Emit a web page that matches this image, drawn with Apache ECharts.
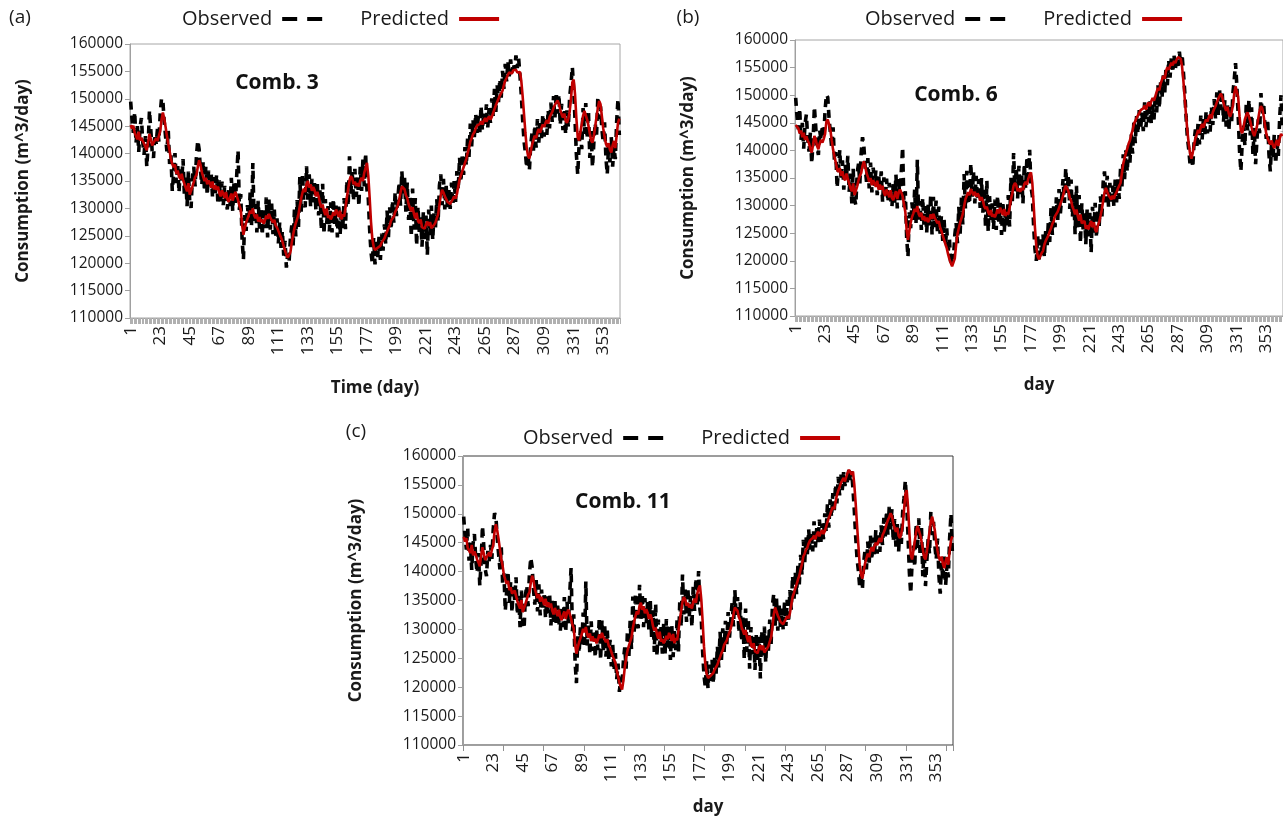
<!DOCTYPE html>
<html>
<head>
<meta charset="utf-8">
<script src="https://cdn.jsdelivr.net/npm/echarts@6/dist/echarts.min.js"></script>
<style>
html,body{margin:0;padding:0;background:#fff;}
#chart{width:1283px;height:820px;}
</style>
</head>
<body>
<div id="chart"></div>
<script>
// Values in thousands of m^3/day, one per day (day 1 .. 365)
const observedK = [
149.5,146.2,143.8,147.6,141.9,145.0,140.3,144.8,146.5,142.1,
139.8,143.2,137.6,141.5,147.9,144.3,140.5,139.2,143.6,141.8,
144.6,142.2,147.3,150.1,149.6,145.8,143.1,140.4,144.2,138.1,
139.7,133.2,136.5,140.1,134.6,138.2,132.9,137.4,135.1,139.0,
132.5,135.8,130.4,136.7,131.2,130.1,135.9,137.6,134.0,139.6,
142.4,140.8,136.9,134.3,138.6,133.1,137.8,132.4,136.9,133.6,
136.4,131.9,135.7,132.8,136.2,130.7,135.1,131.3,134.9,130.6,
134.1,131.2,129.8,133.9,130.4,135.6,129.5,134.8,131.0,136.1,
140.6,129.7,132.6,124.3,120.7,128.8,125.9,130.6,127.4,132.9,
126.8,138.3,127.2,130.8,125.6,131.4,126.3,129.9,125.1,130.2,
126.4,132.0,124.7,131.6,126.1,130.9,125.3,129.8,124.9,128.2,
123.6,127.5,122.8,125.9,121.4,124.1,119.2,121.7,120.3,124.6,
126.9,123.2,129.8,124.9,131.5,126.6,135.7,129.4,136.3,131.0,
130.2,137.7,131.6,136.2,130.4,135.4,131.1,134.8,129.6,135.0,
128.7,133.3,126.1,134.5,125.3,131.7,127.2,130.4,125.8,131.1,
125.6,131.8,126.9,130.5,124.7,130.8,125.2,129.7,126.4,131.9,
126.2,135.1,130.4,139.5,132.6,136.9,131.3,137.2,132.1,135.8,
130.4,137.6,133.2,138.9,134.0,140.1,133.4,131.8,126.2,122.1,
120.0,124.6,119.8,123.9,121.1,124.8,120.6,125.4,122.3,127.1,
123.4,129.6,124.7,130.2,126.1,131.5,127.4,133.0,128.6,131.7,
134.8,130.5,136.8,132.3,135.6,129.4,134.7,127.9,132.2,124.8,
133.6,126.1,131.9,123.2,130.4,125.7,128.9,123.0,129.3,124.4,
128.7,121.5,129.8,125.1,130.5,124.2,129.4,126.3,131.7,127.5,
134.2,136.2,130.6,135.4,129.8,134.1,130.2,133.6,129.9,134.7,
130.6,135.1,131.2,136.8,133.4,139.3,134.8,140.0,136.1,141.2,
137.8,142.9,139.4,145.5,141.3,146.2,143.0,147.3,143.8,146.9,
143.5,148.7,144.2,147.5,145.1,149.0,144.8,148.3,145.6,150.1,
146.9,151.8,147.6,152.5,149.4,153.6,150.2,155.1,151.8,156.4,
153.2,156.9,154.1,157.2,154.8,156.5,155.3,157.9,155.6,157.4,
154.2,150.6,146.1,142.3,140.2,137.4,139.8,136.9,141.6,143.8,
140.4,145.2,141.1,146.3,142.0,145.9,142.7,147.2,143.1,146.8,
143.4,148.0,144.6,149.3,145.8,150.5,146.4,151.2,147.3,150.8,
145.2,149.1,144.3,148.2,143.5,147.9,144.8,150.3,152.7,155.8,
151.6,146.2,139.9,136.2,141.4,144.5,140.8,148.3,143.6,149.2,
142.7,147.8,139.2,144.1,137.5,141.9,145.6,143.1,150.4,146.3,
148.6,144.5,142.1,145.7,139.3,136.2,141.5,138.4,143.0,137.6,
141.2,139.0,145.8,150.0,143.4
];
const predictedComb3K = [
145.2,144.6,145.1,143.8,143.5,142.6,144.0,142.4,142.9,142.3,
141.8,141.2,140.6,142.1,143.6,142.7,141.5,141.2,142.4,142.8,
142.3,143.2,144.1,146.2,147.5,146.4,144.9,143.2,141.8,140.5,
139.0,138.1,137.5,138.0,136.3,136.9,135.8,135.4,136.3,135.2,
134.5,133.8,133.1,134.6,132.5,132.3,134.0,134.8,135.7,136.1,
137.6,138.8,138.0,136.6,135.8,135.0,135.6,134.4,135.1,134.6,
133.8,134.9,133.5,134.2,133.4,134.0,132.8,132.2,133.3,132.6,
131.9,133.0,131.7,131.2,132.0,132.7,131.4,132.4,133.0,132.3,
131.5,130.5,129.8,127.0,125.2,126.5,127.4,128.1,128.8,129.6,
129.1,130.0,128.7,128.2,128.9,127.6,128.4,127.5,128.0,127.2,
127.8,128.7,128.1,129.0,128.3,128.5,127.4,127.9,126.9,126.5,
125.9,125.3,124.7,124.0,123.1,122.3,121.5,121.0,120.8,122.0,
123.8,125.2,126.4,127.3,128.1,128.9,130.5,131.8,132.9,133.6,
133.0,134.5,135.0,133.8,134.4,133.2,133.9,133.3,132.2,133.0,
132.2,131.0,130.2,130.7,129.5,128.8,130.0,128.3,128.7,128.0,
128.5,129.3,128.7,129.8,129.2,128.4,129.6,128.0,128.9,128.5,
130.1,131.9,133.5,135.1,135.9,135.5,134.4,134.9,134.1,134.6,
134.0,135.1,135.6,135.0,136.5,137.4,138.3,136.0,132.0,127.6,
124.5,123.0,122.4,122.2,122.8,122.6,123.2,123.8,123.5,124.5,
125.2,125.8,126.4,126.9,127.8,127.5,128.5,129.3,129.9,130.6,
131.6,132.9,134.0,134.3,133.5,132.4,131.9,130.8,130.1,129.5,
130.2,129.0,128.2,129.2,127.7,127.3,128.0,126.6,126.9,126.3,
127.1,127.6,126.8,127.5,126.4,126.2,127.0,127.4,128.2,128.9,
130.6,132.4,133.4,132.9,132.2,131.7,131.2,131.5,130.8,131.3,
131.7,132.2,131.8,132.6,134.0,135.3,136.0,136.8,137.5,138.3,
139.0,140.1,141.0,142.2,142.8,143.5,143.9,144.6,145.1,144.8,
145.4,145.9,145.3,146.0,146.5,145.8,146.4,146.8,146.2,146.7,
147.4,148.1,148.8,149.4,150.0,150.6,150.3,151.5,152.5,153.3,
153.8,154.4,154.8,155.1,154.6,155.2,154.9,155.3,154.8,154.5,
154.9,153.2,150.4,147.2,143.9,141.0,139.6,139.1,140.4,141.6,
142.5,143.3,142.8,143.9,144.5,143.8,144.7,145.3,144.9,145.6,
146.1,145.5,146.6,147.1,147.6,148.3,148.9,149.2,149.7,149.1,
148.0,147.2,146.6,147.3,146.0,145.6,146.4,147.6,150.1,153.0,
153.5,150.8,146.5,143.0,142.4,143.9,145.4,146.9,147.8,147.0,
146.2,145.1,143.7,142.4,142.0,143.2,144.9,146.7,148.3,149.6,
149.0,146.8,144.6,143.1,141.8,141.2,141.9,140.7,140.2,141.5,
142.3,141.0,143.3,145.6,146.4
];
const predictedComb6K = [
144.6,144.9,144.0,143.1,143.6,142.4,143.2,141.9,142.6,141.8,
141.3,140.2,139.6,141.0,142.6,142.0,140.8,140.2,141.3,141.9,
141.4,142.1,143.0,145.2,145.6,144.7,143.6,141.8,140.1,138.9,
137.8,136.5,136.1,136.8,135.4,136.2,135.0,134.6,135.8,134.9,
134.0,133.1,132.6,134.0,131.9,132.0,133.5,134.6,135.4,135.9,
137.2,138.0,137.1,135.9,135.2,134.3,135.0,133.7,134.6,134.0,
133.4,134.5,132.9,133.8,132.9,133.6,132.3,131.8,132.9,132.3,
131.5,132.8,131.4,131.0,131.9,132.6,131.2,132.3,132.9,132.4,
131.7,130.3,128.9,125.6,123.8,125.4,126.9,127.9,128.6,129.4,
128.9,129.9,128.5,128.0,128.7,127.4,128.1,127.2,127.8,127.0,
127.5,128.4,127.6,128.5,127.8,127.9,126.8,127.2,126.1,125.4,
124.6,123.8,123.0,122.3,121.2,120.3,119.6,119.0,118.8,120.4,
122.9,124.8,125.9,126.9,127.7,128.5,129.9,131.2,131.8,132.4,
131.9,133.0,132.7,131.9,132.5,131.6,132.2,131.8,130.9,131.5,
130.9,129.9,129.4,129.8,128.8,128.3,129.2,128.0,128.4,127.9,
128.5,129.3,128.6,129.6,129.0,128.3,129.4,128.1,128.8,128.4,
129.6,131.1,132.2,133.6,134.1,133.7,132.6,133.1,132.5,133.2,
132.8,133.9,134.3,133.8,134.9,135.6,136.0,134.1,130.2,125.9,
122.6,120.8,120.3,120.6,121.4,121.8,122.9,123.6,123.4,124.6,
125.3,125.9,126.7,127.2,128.1,127.8,128.9,129.6,130.3,131.0,
131.8,132.9,133.6,133.4,132.6,131.4,130.9,129.8,129.2,128.4,
129.3,128.1,127.3,128.4,126.8,126.5,127.2,125.8,126.4,125.7,
126.6,127.2,126.1,127.0,125.6,125.2,126.4,127.0,128.1,129.3,
130.9,132.4,133.2,132.5,131.9,131.6,131.1,131.8,131.2,132.0,
132.4,133.1,132.8,134.1,135.9,137.6,138.6,139.5,140.3,141.2,
141.8,142.9,143.6,144.8,145.3,145.9,146.2,146.8,147.3,147.0,
147.6,148.1,147.4,148.2,148.7,148.0,148.9,149.5,149.0,149.8,
150.6,151.3,150.9,152.1,152.8,153.5,153.0,154.3,155.1,154.6,
155.3,155.9,155.4,156.2,155.8,156.5,156.9,157.1,156.6,155.2,
152.6,149.4,146.3,143.5,141.2,139.4,138.5,139.6,141.0,142.2,
142.9,143.7,143.1,144.2,144.8,144.1,145.0,145.6,145.2,146.0,
146.5,145.8,146.9,147.5,148.0,148.7,149.3,149.8,150.3,149.7,
148.6,147.8,147.2,147.9,146.6,146.1,146.9,148.1,150.2,151.6,
151.9,149.6,146.2,143.6,143.1,144.3,145.6,146.4,146.9,146.1,
145.3,144.2,143.2,142.6,142.9,144.3,145.8,147.2,148.0,147.6,
146.3,144.6,143.0,142.2,141.6,141.1,141.8,140.9,140.4,141.2,
141.9,140.8,142.1,143.0,142.6
];
const predictedComb11K = [
146.0,145.2,145.8,144.1,144.3,143.2,144.6,142.8,143.5,142.9,
142.1,141.6,140.9,142.8,144.2,143.1,142.0,141.8,142.9,143.3,
142.6,143.8,144.5,146.9,148.2,147.1,145.6,143.9,142.2,141.0,
139.4,138.6,137.9,138.4,136.8,137.3,136.2,135.9,136.7,135.8,
134.9,134.2,133.6,135.1,133.0,132.8,134.4,135.2,136.0,136.4,
138.1,139.3,138.5,137.0,136.2,135.4,136.1,134.8,135.6,135.0,
134.2,135.3,133.9,134.7,133.8,134.5,133.2,132.6,133.7,133.0,
132.3,133.4,132.1,131.6,132.5,133.1,131.8,132.9,133.4,132.7,
131.9,130.8,130.2,127.4,125.8,126.9,127.8,128.5,129.2,130.1,
129.5,130.4,129.1,128.6,129.3,128.0,128.8,127.9,128.4,127.6,
128.2,129.1,128.5,129.4,128.7,128.9,127.8,128.3,127.2,126.8,
126.1,125.4,124.8,124.2,123.0,121.9,120.8,120.1,119.6,121.2,
123.4,125.0,126.3,127.1,127.9,128.6,130.2,131.4,132.3,133.1,
132.6,134.1,134.6,133.4,134.0,132.8,133.5,132.9,131.8,132.6,
131.9,130.6,129.8,130.3,129.1,128.4,129.6,127.9,128.3,127.6,
128.1,128.9,128.3,129.4,128.8,128.0,129.2,127.6,128.5,128.1,
129.8,131.6,133.2,134.8,135.6,135.2,134.1,134.6,133.8,134.3,
133.6,134.8,135.3,134.6,136.2,137.1,137.6,135.2,131.4,127.1,
124.0,122.3,121.6,121.4,122.0,121.8,122.5,123.1,122.8,123.9,
124.6,125.2,125.9,126.4,127.3,127.0,128.1,128.9,129.5,130.2,
131.3,132.6,133.8,134.0,133.2,132.1,131.6,130.4,129.8,129.1,
129.9,128.6,127.8,128.9,127.3,126.9,127.6,126.2,126.5,125.9,
126.8,127.3,126.4,127.2,126.0,125.8,126.7,127.1,127.9,128.6,
130.4,132.6,133.8,133.1,132.4,131.9,131.3,131.6,130.9,131.4,
131.8,132.3,131.9,132.8,134.2,135.6,136.3,137.1,137.8,138.6,
139.3,140.4,141.3,142.6,143.1,143.8,144.2,144.9,145.4,145.1,
145.8,146.2,145.6,146.4,146.9,146.1,146.7,147.2,146.5,147.0,
147.8,148.6,149.3,149.9,150.6,151.2,150.8,152.1,153.2,154.0,
154.6,155.3,155.8,156.2,155.6,156.4,157.1,157.6,157.2,156.8,
157.3,155.0,151.8,148.1,144.6,141.2,139.5,138.8,140.2,141.4,
142.3,143.1,142.5,143.6,144.2,143.5,144.4,145.0,144.6,145.3,
145.8,145.1,146.3,146.8,147.4,148.2,148.9,149.4,150.1,149.6,
148.4,147.5,146.9,147.6,146.2,145.8,146.6,147.9,150.6,153.4,
154.1,151.2,146.8,143.0,142.1,143.6,145.2,146.8,147.9,147.2,
146.4,145.3,143.9,142.5,142.1,143.4,145.1,146.9,148.6,149.5,
149.2,147.1,145.0,143.6,142.4,141.9,142.6,141.3,140.6,141.8,
142.5,141.2,143.6,145.4,146.1
];
const UNIT = 1000;
const panelLabels = ['(a)', '(b)', '(c)'];
const combLabels = ['Comb. 3', 'Comb. 6', 'Comb. 11'];
const xTitles = ['Time (day)', 'day', 'day'];
const yTitle = 'Consumption (m^3/day)';
const seriesNames = ['Observed', 'Predicted'];
const yMin = 110000, yMax = 160000, yStep = 5000;

const days = [];
for (let d = 1; d <= 365; d++) days.push(String(d));
const toData = arr => arr.map(v => Math.round(v * UNIT));
const predictedAll = [predictedComb3K, predictedComb6K, predictedComb11K];

const FONT = 'Open Sans';
const grids = [
  {left: 130, top: 44, width: 490, height: 274, border: '#a6a6a6', tickEvery: 1, nameGap: 62},
  {left: 795, top: 40, width: 490, height: 276, border: '#a6a6a6', tickEvery: 1, nameGap: 61},
  {left: 463, top: 456, width: 490, height: 289, border: '#3a3a3a', tickEvery: 30, nameGap: 54}
];
const legendPos = [{left: 177, top: 4}, {left: 860, top: 4}, {left: 518, top: 423}];
const panelPos = [[20, 18], [688, 18], [356, 432]];
const combPos = [[277, 83], [956, 95], [623, 502]];

const dashIcon = 'path://M0,0H15V4H0ZM25,0H40V4H25Z';
const lineIcon = 'path://M0,0H40V4H0Z';
const RED = '#c00000';

const option = {
  animation: false,
  backgroundColor: '#fff',
  textStyle: {fontFamily: FONT},
  grid: grids.map(g => ({left: g.left, top: g.top, width: g.width, height: g.height,
    show: true, borderColor: g.border, borderWidth: 1, backgroundColor: 'transparent', containLabel: false})),
  xAxis: grids.map((g, i) => ({
    type: 'category', gridIndex: i, data: days, boundaryGap: true,
    axisLine: {show: true, lineStyle: {color: '#a0a0a0', width: 1}},
    axisTick: {show: true, length: 6, interval: g.tickEvery === 1 ? 0 : (idx => idx % g.tickEvery === 0),
      lineStyle: {color: g.tickEvery === 1 ? '#b0b0b0' : '#909090', width: 1}},
    axisLabel: {interval: 21, rotate: 90, fontSize: 17, color: '#1a1a1a', margin: 8, fontFamily: FONT},
    splitLine: {show: false},
    name: xTitles[i], nameLocation: 'middle', nameGap: g.nameGap,
    nameTextStyle: {fontSize: 17, fontWeight: 'bold', color: '#1a1a1a', fontFamily: FONT}
  })),
  yAxis: grids.map((g, i) => ({
    type: 'value', gridIndex: i, min: yMin, max: yMax, interval: yStep,
    axisLine: {show: true, lineStyle: {color: '#a0a0a0', width: 1}},
    axisTick: {show: true, length: 5, lineStyle: {color: '#a0a0a0'}},
    axisLabel: {fontSize: 15.5, color: '#1a1a1a', margin: 7, fontFamily: FONT,
      formatter: v => String(v)},
    splitLine: {show: false},
    name: yTitle, nameLocation: 'middle', nameGap: 98, nameRotate: 90,
    nameTextStyle: {fontSize: 17, fontWeight: 'bold', color: '#1a1a1a', fontFamily: FONT}
  })),
  legend: legendPos.map(p => ({
    left: p.left, top: p.top, orient: 'horizontal', align: 'right',
    itemWidth: 40, itemHeight: 4, itemGap: 38,
    textStyle: {fontSize: 20, color: '#1a1a1a', fontFamily: FONT, padding: [0, 5, 0, 0]},
    selectedMode: false,
    data: [
      {name: seriesNames[0], icon: dashIcon, itemStyle: {color: '#000', borderWidth: 0}},
      {name: seriesNames[1], icon: lineIcon, itemStyle: {color: RED, borderWidth: 0}}
    ]
  })),
  graphic: [].concat(
    panelLabels.map((t, i) => ({type: 'text', x: panelPos[i][0], y: panelPos[i][1], silent: true,
      style: {text: t, fontSize: 19, fontFamily: FONT, fill: '#1a1a1a', textAlign: 'center', textVerticalAlign: 'middle'}})),
    combLabels.map((t, i) => ({type: 'text', x: combPos[i][0], y: combPos[i][1], silent: true, z: 10,
      style: {text: t, fontSize: 21, fontWeight: 'bold', fontFamily: FONT, fill: '#111', textAlign: 'center', textVerticalAlign: 'middle'}}))
  ),
  series: []
};

grids.forEach((g, i) => {
  option.series.push({
    type: 'line', name: seriesNames[0], xAxisIndex: i, yAxisIndex: i,
    data: toData(observedK), showSymbol: false, symbol: 'none', z: 2,
    itemStyle: {color: '#000'},
    lineStyle: {color: '#000', width: 3.6, type: [8, 6]}
  });
  option.series.push({
    type: 'line', name: seriesNames[1], xAxisIndex: i, yAxisIndex: i,
    data: toData(predictedAll[i]), showSymbol: false, symbol: 'none', z: 3,
    itemStyle: {color: RED},
    lineStyle: {color: RED, width: 2.6}
  });
});

const chart = echarts.init(document.getElementById('chart'), null, {renderer: 'canvas'});
chart.setOption(option);
</script>
</body>
</html>
